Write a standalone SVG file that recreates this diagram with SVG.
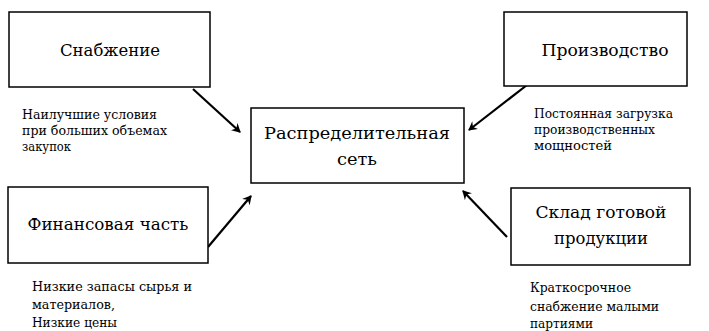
<svg xmlns="http://www.w3.org/2000/svg" width="709" height="331" viewBox="0 0 709 331">
<style>
.box{fill:#fff;stroke:#000;stroke-width:1.5}
.t{font-size:17px;fill:#000;text-anchor:middle}
.a{font-size:12.5px;fill:#000}
.c{stroke:#000;stroke-width:2.2;fill:none;marker-end:url(#ah)}
</style>
<defs>
<marker id="ah" markerWidth="10" markerHeight="10" refX="8" refY="5" orient="auto" markerUnits="userSpaceOnUse">
<path d="M0,0 L9,5 L0,10 L3,5 Z" fill="#000"/>
</marker>
</defs>
<rect width="709" height="331" fill="#fff"/>
<g id="connectors">
<line class="c" x1="193" y1="89" x2="240" y2="132"/>
<line class="c" x1="527" y1="85" x2="469" y2="130"/>
<line class="c" x1="208" y1="247" x2="251" y2="196"/>
<line class="c" x1="507" y1="237" x2="463" y2="191"/>
</g>
<g font-family="DejaVu Serif, serif">
<g id="node-snab">
<rect class="box" x="9" y="12" width="201" height="75"/>
<text class="t" x="110" y="56" textLength="100" lengthAdjust="spacingAndGlyphs">Снабжение</text>
</g>
<g id="note-snab">
<text class="a" x="22" y="119" textLength="135" lengthAdjust="spacingAndGlyphs">Наилучшие условия</text>
<text class="a" x="22" y="135" textLength="145" lengthAdjust="spacingAndGlyphs">при больших объемах</text>
<text class="a" x="22" y="151" textLength="49" lengthAdjust="spacingAndGlyphs">закупок</text>
</g>
<g id="node-proizv">
<rect class="box" x="504" y="12" width="183" height="74"/>
<text class="t" x="605" y="56" textLength="127" lengthAdjust="spacingAndGlyphs">Производство</text>
</g>
<g id="note-proizv">
<text class="a" x="534" y="118" textLength="139" lengthAdjust="spacingAndGlyphs">Постоянная загрузка</text>
<text class="a" x="534" y="134" textLength="121" lengthAdjust="spacingAndGlyphs">производственных</text>
<text class="a" x="534" y="150" textLength="78" lengthAdjust="spacingAndGlyphs">мощностей</text>
</g>
<g id="node-set">
<rect class="box" x="251" y="108" width="213" height="75"/>
<text class="t" x="357" y="139" textLength="186" lengthAdjust="spacingAndGlyphs">Распределительная</text>
<text class="t" x="357" y="165" textLength="40" lengthAdjust="spacingAndGlyphs">сеть</text>
</g>
<g id="node-fin">
<rect class="box" x="8" y="187" width="200" height="76"/>
<text class="t" x="108" y="230" textLength="161" lengthAdjust="spacingAndGlyphs">Финансовая часть</text>
</g>
<g id="note-fin">
<text class="a" x="32" y="291" textLength="160" lengthAdjust="spacingAndGlyphs">Низкие запасы сырья  и</text>
<text class="a" x="32" y="309" textLength="83" lengthAdjust="spacingAndGlyphs">материалов,</text>
<text class="a" x="32" y="327" textLength="85" lengthAdjust="spacingAndGlyphs">Низкие цены</text>
</g>
<g id="node-sklad">
<rect class="box" x="511" y="188" width="179" height="77"/>
<text class="t" x="601" y="218" textLength="131" lengthAdjust="spacingAndGlyphs">Склад готовой</text>
<text class="t" x="601" y="244" textLength="94" lengthAdjust="spacingAndGlyphs">продукции</text>
</g>
<g id="note-sklad">
<text class="a" x="530" y="292" textLength="101" lengthAdjust="spacingAndGlyphs">Краткосрочное</text>
<text class="a" x="530" y="311" textLength="129" lengthAdjust="spacingAndGlyphs">снабжение малыми</text>
<text class="a" x="530" y="328" textLength="63" lengthAdjust="spacingAndGlyphs">партиями</text>
</g>
</g>
</svg>
